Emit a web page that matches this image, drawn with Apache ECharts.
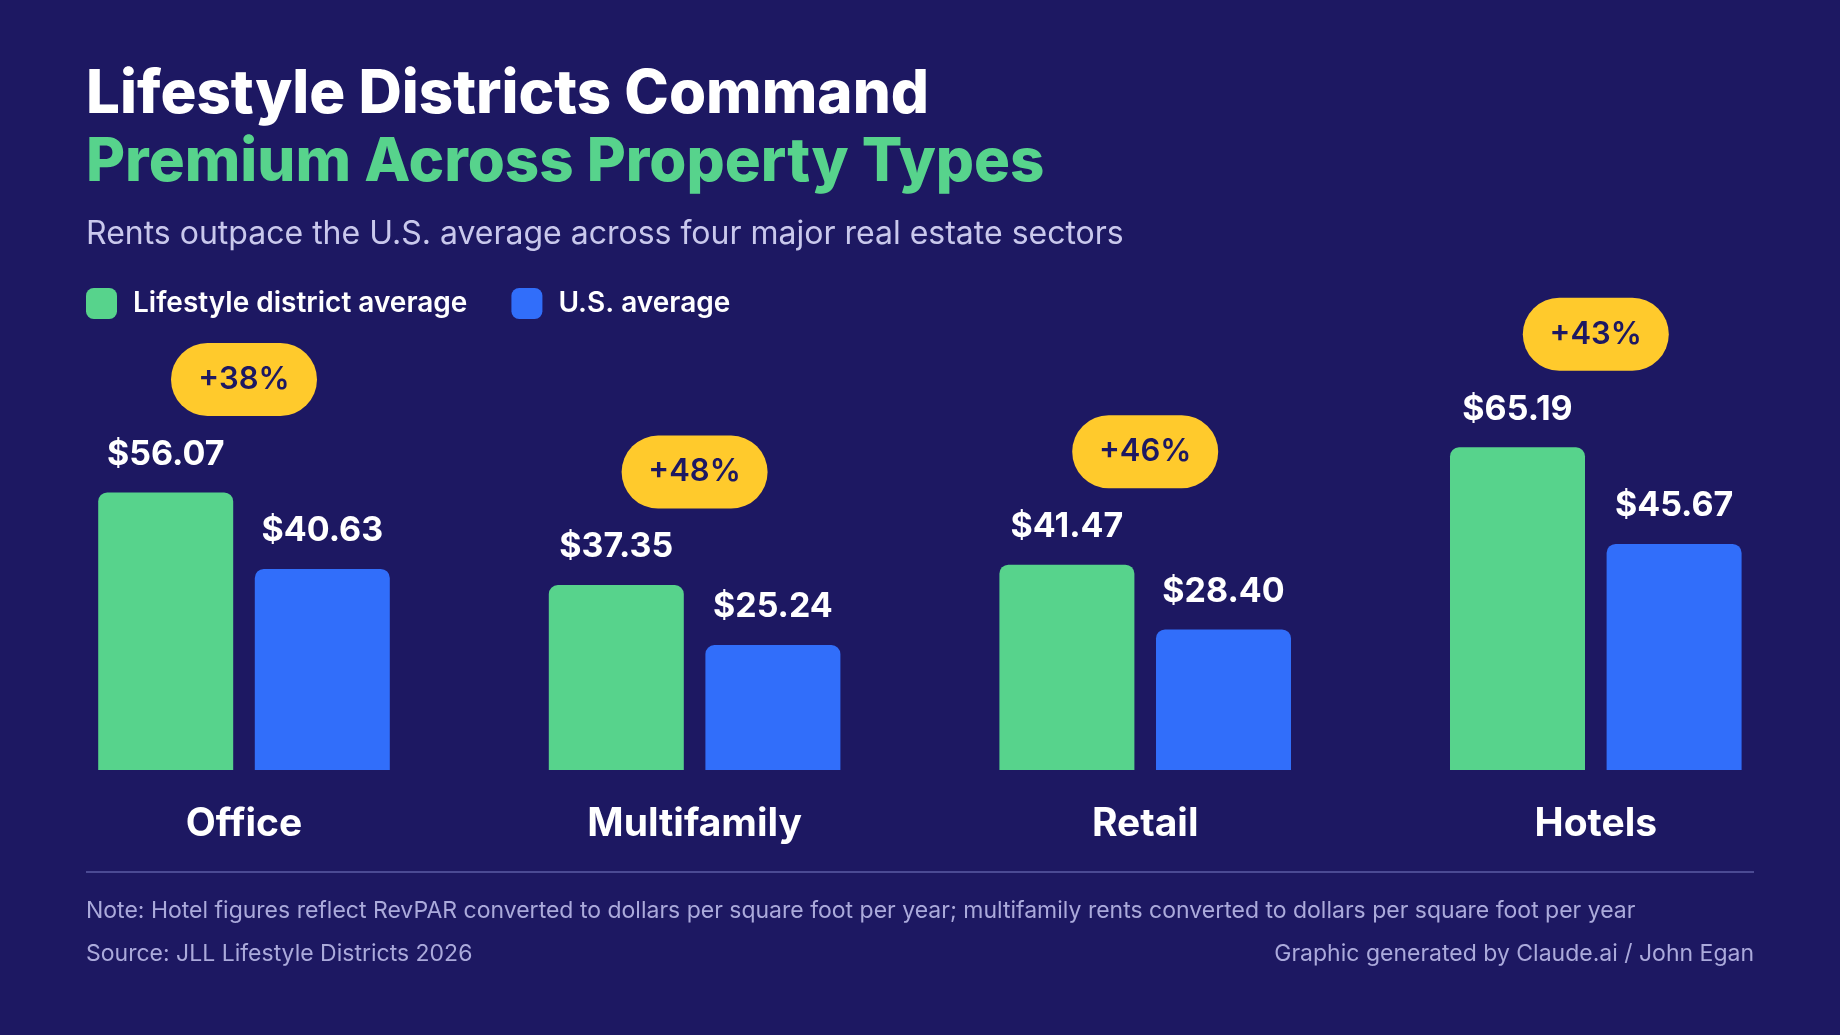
<!DOCTYPE html>
<html>
<head>
<meta charset="utf-8">
<script src="https://cdn.jsdelivr.net/npm/echarts@6/dist/echarts.min.js"></script>
<style>
html,body{margin:0;padding:0;background:#1D1862;}
#chart{width:1840px;height:1035px;}
</style>
</head>
<body>
<div id="chart"></div>
<script>
const categories = ['Office', 'Multifamily', 'Retail', 'Hotels'];
const lifestyleAvg = [56.07, 37.35, 41.47, 65.19];
const usAvg = [40.63, 25.24, 28.40, 45.67];
const premiumLabels = ['+38%', '+48%', '+46%', '+43%'];
const seriesNames = ['Lifestyle district average', 'U.S. average'];

const BG = '#1D1862';
const GREEN = '#57D38C';
const BLUE = '#316EFA';
const YELLOW = '#FFCA2C';
const FONT = 'Inter';

const chart = echarts.init(document.getElementById('chart'));

function money(v) { return '$' + v.toFixed(2); }

const valueLabel = {
  show: true,
  position: 'top',
  distance: 21,
  color: '#FFFFFF',
  fontFamily: FONT,
  fontWeight: 700,
  fontSize: 34,
  lineHeight: 34,
  formatter: p => money(p.value)
};

chart.setOption({
  backgroundColor: BG,
  animation: false,
  title: [
    { text: 'Lifestyle Districts Command', left: 86, top: 65, padding: 0,
      textStyle: { color: '#FFFFFF', fontFamily: FONT, fontWeight: 800, fontSize: 60, lineHeight: 60 } },
    { text: 'Premium Across Property Types', left: 86, top: 133, padding: 0,
      textStyle: { color: GREEN, fontFamily: FONT, fontWeight: 800, fontSize: 60, lineHeight: 60 } },
    { text: 'Rents outpace the U.S. average across four major real estate sectors', left: 86, top: 218, padding: 0,
      textStyle: { color: '#C9C8EC', fontFamily: FONT, fontWeight: 400, fontSize: 32, lineHeight: 32 } },
    { text: 'Note: Hotel figures reflect RevPAR converted to dollars per square foot per year; multifamily rents converted to dollars per square foot per year',
      left: 86, top: 900, padding: 0,
      textStyle: { color: '#ABAADB', fontFamily: FONT, fontWeight: 400, fontSize: 23, lineHeight: 23 } },
    { text: 'Source: JLL Lifestyle Districts 2026', left: 86, top: 943, padding: 0,
      textStyle: { color: '#ABAADB', fontFamily: FONT, fontWeight: 400, fontSize: 23, lineHeight: 23 } },
    { text: 'Graphic generated by Claude.ai / John Egan', right: 86, top: 943, padding: 0,
      textStyle: { color: '#ABAADB', fontFamily: FONT, fontWeight: 400, fontSize: 23, lineHeight: 23 } }
  ],
  legend: {
    data: seriesNames,
    left: 86,
    top: 288,
    padding: 0,
    icon: 'roundRect',
    itemWidth: 31,
    itemHeight: 31,
    itemGap: 44,
    selectedMode: false,
    textStyle: { color: '#FFFFFF', fontFamily: FONT, fontWeight: 600, fontSize: 28, padding: [0, 0, 0, 11] }
  },
  grid: { left: 18.7, right: 18.9, top: 275, bottom: 265, containLabel: false },
  xAxis: {
    type: 'category',
    data: categories,
    axisLine: { show: false },
    axisTick: { show: false },
    splitLine: { show: false },
    axisLabel: { color: '#FFFFFF', fontFamily: FONT, fontWeight: 700, fontSize: 39, lineHeight: 39, margin: 35 }
  },
  yAxis: {
    type: 'value',
    min: 0,
    max: 100,
    show: false,
    splitLine: { show: false }
  },
  graphic: [
    { type: 'line', shape: { x1: 86, y1: 872, x2: 1754, y2: 872 },
      style: { stroke: '#4B4A93', lineWidth: 2 }, silent: true }
  ],
  series: [
    {
      name: seriesNames[0],
      type: 'bar',
      data: lifestyleAvg,
      barWidth: 135,
      barGap: '16%',
      itemStyle: { color: GREEN, borderRadius: [9, 9, 0, 0] },
      label: valueLabel
    },
    {
      name: seriesNames[1],
      type: 'bar',
      data: usAvg,
      barWidth: 135,
      barGap: '16%',
      itemStyle: { color: BLUE, borderRadius: [9, 9, 0, 0] },
      label: valueLabel
    },
    {
      name: 'premium',
      type: 'scatter',
      data: lifestyleAvg,
      symbolSize: 1,
      itemStyle: { color: 'rgba(0,0,0,0)', opacity: 1 },
      z: 10,
      silent: true,
      label: {
        show: true,
        position: 'inside',
        offset: [0, -113],
        formatter: p => premiumLabels[p.dataIndex],
        backgroundColor: YELLOW,
        borderRadius: 37,
        width: 146,
        height: 73,
        lineHeight: 73,
        align: 'center',
        verticalAlign: 'middle',
        color: '#1D1862',
        fontFamily: FONT,
        fontWeight: 600,
        fontSize: 31,
        opacity: 1
      }
    }
  ]
});
</script>
</body>
</html>
